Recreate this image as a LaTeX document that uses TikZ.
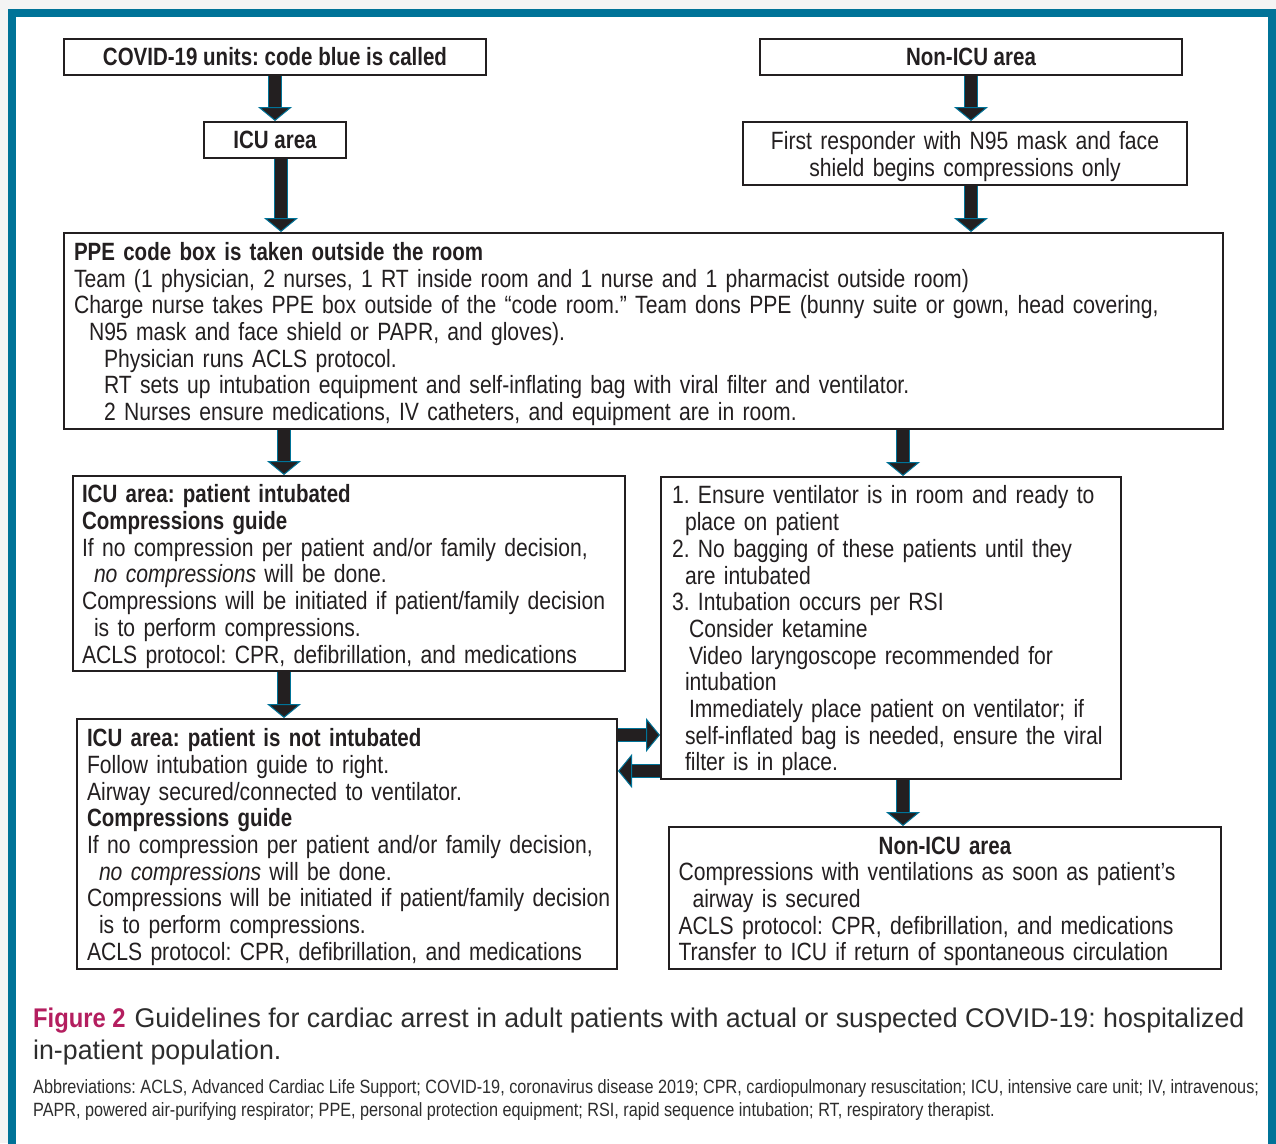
\documentclass[tikz,border=0pt]{standalone}
\usepackage{fontspec}
\setmainfont[FakeStretch=0.845,BoldFeatures={FakeStretch=0.82}]{Liberation Sans}
\newfontfamily\capfont[FakeStretch=0.99,BoldFeatures={FakeStretch=0.88}]{Liberation Sans}
\usetikzlibrary{arrows.meta}
\definecolor{frame}{RGB}{0,115,152}
\definecolor{ink}{RGB}{35,31,32}
\definecolor{figred}{RGB}{180,30,95}
\definecolor{capgray}{RGB}{45,45,45}
\definecolor{pagegray}{RGB}{244,244,244}
\frenchspacing
\begin{document}
\begin{tikzpicture}[x=1pt,y=-1pt,
    box/.style={draw=ink,line width=2pt,fill=white,inner sep=0pt,text=ink},
    head/.style={box,font=\fontsize{25}{26.7}\selectfont\bfseries},
    plain/.style={box,align=center,font=\fontsize{25}{26.7}\selectfont,execute at begin node={\rule{0pt}{24pt}}},
    list/.style={box,anchor=north west,align=left,inner xsep=10pt,font=\fontsize{25}{26.7}\selectfont\frenchspacing,
        execute at begin node={\rule{0pt}{24pt}}},
    blk/.style={line width=12.5pt,ink,-{Triangle[width=34pt,length=14pt,line width=1pt,color=frame,fill=ink]},
        preaction={draw=frame,line width=14.5pt,shorten >=12pt,-}}]
    \useasboundingbox (0,0) rectangle (1276,1143);
    \fill[pagegray] (0,0) rectangle (1276,1143);
    \fill[white] (12,12) rectangle (1272,1143);
    \draw[frame,line width=8pt] (12,1150)--(12,12.7)--(1272,12.7)--(1272,1150);
    % top row
    \node[head,minimum width=422pt,minimum height=36pt] (covid) at (275,57) {COVID-19 units: code blue is called};
    \node[head,minimum width=422pt,minimum height=36pt] (nonicu) at (971,57) {Non-ICU area};
    \node[head,minimum width=142pt,minimum height=36pt] (icu) at (275,140) {ICU area};
    \node[plain,minimum width=444pt,minimum height=63pt,text width=424pt] (first) at (965,153.5)
        {First responder with N95 mask and face\\shield begins compressions only};
    % PPE box
    \node[list,minimum width=1159pt,minimum height=196pt,text width=1139pt] (ppe) at (63,232)
        {\textbf{PPE code box is taken outside the room}\\
        Team (1 physician, 2 nurses, 1 RT inside room and 1 nurse and 1 pharmacist outside room)\\
        Charge nurse takes PPE box outside of the “code room.” Team dons PPE (bunny suite or gown, head covering,\\
        \hspace*{15pt}N95 mask and face shield or PAPR, and gloves).\\
        \hspace*{30pt}Physician runs ACLS protocol.\\
        \hspace*{30pt}RT sets up intubation equipment and self-inflating bag with viral filter and ventilator.\\
        \hspace*{30pt}2 Nurses ensure medications, IV catheters, and equipment are in room.};
    % lower boxes
    \node[list,minimum width=552pt,minimum height=195pt,text width=534pt,inner xsep=9pt] (icuint) at (72,475)
        {\textbf{ICU area: patient intubated}\\
        \textbf{Compressions guide}\\
        If no compression per patient and/or family decision,\\
        \hspace*{12pt}\textit{no compressions} will be done.\\
        Compressions will be initiated if patient/family decision\\
        \hspace*{12pt}is to perform compressions.\\
        ACLS protocol: CPR, defibrillation, and medications};
    \node[list,minimum width=460pt,minimum height=302pt,text width=438pt,inner xsep=11pt] (intub) at (660,476)
        {1. Ensure ventilator is in room and ready to\\
        \hspace*{13pt}place on patient\\
        2. No bagging of these patients until they\\
        \hspace*{13pt}are intubated\\
        3. Intubation occurs per RSI\\
        \hspace*{17pt}Consider ketamine\\
        \hspace*{17pt}Video laryngoscope recommended for\\
        \hspace*{13pt}intubation\\
        \hspace*{17pt}Immediately place patient on ventilator; if\\
        \hspace*{13pt}self-inflated bag is needed, ensure the viral\\
        \hspace*{13pt}filter is in place.};
    \node[list,minimum width=540pt,minimum height=250pt,text width=536pt,inner xsep=2pt] (notint) at (76,718)
        {\hspace*{8pt}\textbf{ICU area: patient is not intubated}\\
        \hspace*{8pt}Follow intubation guide to right.\\
        \hspace*{8pt}Airway secured/connected to ventilator.\\
        \hspace*{8pt}\textbf{Compressions guide}\\
        \hspace*{8pt}If no compression per patient and/or family decision,\\
        \hspace*{20pt}\textit{no compressions} will be done.\\
        \hspace*{8pt}Compressions will be initiated if patient/family decision\\
        \hspace*{20pt}is to perform compressions.\\
        \hspace*{8pt}ACLS protocol: CPR, defibrillation, and medications};
    \node[list,minimum width=552pt,minimum height=142pt,text width=533pt,inner xsep=9.5pt] (nonicu2) at (668,826)
        {\hspace*{\fill}\textbf{Non-ICU area}\hspace*{\fill}\null\\
        Compressions with ventilations as soon as patient’s\\
        \hspace*{14pt}airway is secured\\
        ACLS protocol: CPR, defibrillation, and medications\\
        Transfer to ICU if return of spontaneous circulation};
    % arrows
    \coordinate (lcol) at (284,0);
    \coordinate (rcol) at (903,0);
    \coordinate (row1) at (0,735);
    \coordinate (row2) at (0,771);
    \draw[blk] (covid)--(icu);
    \draw[blk] ([xshift=6pt]icu.south)--([xshift=6pt]icu.south |- ppe.north);
    \draw[blk] (nonicu)--(nonicu |- first.north);
    \draw[blk] (first.south -| nonicu)--(nonicu |- ppe.north);
    \draw[blk] (ppe.south -| lcol)--(icuint.north -| lcol);
    \draw[blk] (ppe.south -| rcol)--(intub.north -| rcol);
    \draw[blk] (icuint.south -| lcol)--(notint.north -| lcol);
    \draw[blk] (intub.south -| rcol)--(nonicu2.north -| rcol);
    \draw[blk] (notint.east |- row1)--(intub.west |- row1);
    \draw[blk] (intub.west |- row2)--(notint.east |- row2);
    % caption
    \node[anchor=north west,align=left,inner sep=0pt,text=capgray,font=\capfont\fontsize{27}{32}\selectfont\frenchspacing] (cap) at (33,1008)
        {\textcolor{figred}{\textbf{Figure 2}}\hspace{9pt}Guidelines for cardiac arrest in adult patients with actual or suspected COVID-19: hospitalized\\
        in-patient population.};
    \node[anchor=north west,align=left,inner sep=0pt,text=capgray,font=\fontsize{19.2}{23}\selectfont\frenchspacing] (abbr) at (33,1079)
        {Abbreviations: ACLS, Advanced Cardiac Life Support; COVID-19, coronavirus disease 2019; CPR, cardiopulmonary resuscitation; ICU, intensive care unit; IV, intravenous;\\
        PAPR, powered air-purifying respirator; PPE, personal protection equipment; RSI, rapid sequence intubation; RT, respiratory therapist.};
\end{tikzpicture}
\end{document}
